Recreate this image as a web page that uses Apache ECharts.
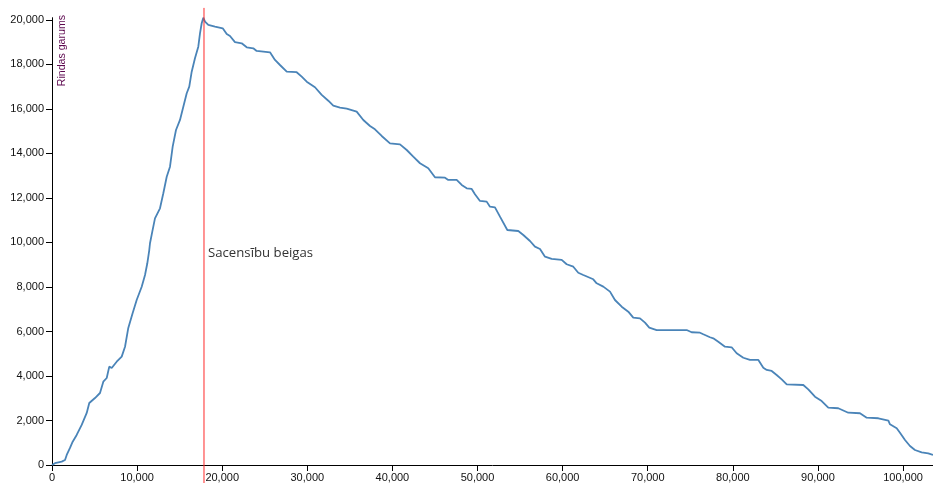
<!DOCTYPE html>
<html>
<head>
<meta charset="utf-8">
<script src="https://cdn.jsdelivr.net/npm/echarts@6/dist/echarts.min.js"></script>
<style>
html,body{margin:0;padding:0;background:#fff;}
#chart{width:933px;height:483px;}
</style>
</head>
<body>
<div id="chart"></div>
<script>
// time (x) values
var timeValues = [
0,350,1140,1530,1730,2115,2430,2900,3490,4080,4380,5050,5640,6030,6430,6730,7015,7600,8190,8580,8965,9480,9950,
10540,10930,11200,11430,11515,11785,12100,12690,13080,13480,13865,14180,14570,15040,15430,15830,16130,16415,16800,
17190,17390,17590,17780,
17980,18365,19150,20060,20530,20915,21500,22290,22880,23650,24050,25615,26200,26790,27580,28750,29340,29930,30900,
31690,32465,33050,33840,34630,35800,36580,37365,37950,38740,39715,40890,41680,42450,43240,44215,45000,46180,46565,
47550,48140,48730,49315,49700,50290,51075,51465,52050,52640,53500,54790,55380,56165,56750,57340,57930,58715,59890,
60475,61255,61840,62430,63600,64000,64780,65565,66150,66940,67715,68300,69090,69680,70180,71050,74575,75160,76140,
76530,77315,77700,78290,79080,79860,80450,81230,82015,83000,83580,83985,84565,85150,85740,86330,88280,88865,89650,
90440,91215,92390,93565,94940,95730,97100,98280,98465,99255,99640,100230,100815,101400,102190,102965,103520
];
// queue length (y) values
var queueLength = [
0,80,150,225,450,765,1047,1350,1800,2340,2786,3010,3235,3745,3910,4420,4360,4640,4870,5315,6160,6830,7415,
8010,8540,9065,9660,9965,10485,11085,11535,12210,12955,13405,14305,15055,15505,16100,16705,17000,17675,18280,
18800,19400,19850,20100,
19920,19775,19700,19625,19370,19280,19000,18950,18770,18725,18605,18545,18200,17975,17675,17650,17450,17225,16975,
16630,16370,16145,16060,16015,15880,15505,15235,15085,14785,14455,14410,14155,13855,13560,13335,12930,12910,12810,
12810,12585,12435,12405,12165,11865,11835,11610,11580,11160,10560,10515,10335,10065,9810,9705,9360,9260,9215,
9020,8910,8640,8540,8345,8165,8015,7790,7415,7115,6890,6620,6590,6395,6170,6065,6065,5965,5945,
5875,5740,5695,5540,5315,5290,5020,4820,4720,4720,4375,4270,4225,4045,3850,3625,3595,3400,3070,
2875,2575,2550,2350,2325,2125,2100,1990,1830,1650,1450,1125,855,675,570,525,450
];
// end of competition marker
var endTime = [17860];
var endLineY = [-810, 20540];
var endLabelY = [9530];
var endLabel = ["Sacensību beigas"];
var yAxisTitle = ["Rindas garums"];

var lineData = timeValues.map(function (t, i) { return [t, queueLength[i]]; });
var endLineData = endLineY.map(function (y) { return [endTime[0], y]; });

var chart = echarts.init(document.getElementById('chart'), null, {renderer: 'canvas'});
var axisLabelStyle = {color: '#111', fontFamily: 'Liberation Sans, Arial, sans-serif', fontSize: 11};
chart.setOption({
  animation: false,
  backgroundColor: '#fff',
  grid: {left: 52, right: 0, top: 17.7, bottom: 18, containLabel: false},
  xAxis: {
    type: 'value', min: 0, max: 103520, interval: 10000,
    axisLine: {show: true, lineStyle: {color: '#000', width: 1}},
    axisTick: {show: true, length: 6, lineStyle: {color: '#000'}},
    axisLabel: Object.assign({margin: 7, showMaxLabel: false}, axisLabelStyle),
    splitLine: {show: false}
  },
  yAxis: {
    type: 'value', min: 0, max: 20100, interval: 2000,
    axisLine: {show: true, lineStyle: {color: '#000', width: 1}},
    axisTick: {show: true, length: 6, lineStyle: {color: '#000'}},
    axisLabel: Object.assign({margin: 8, showMaxLabel: false}, axisLabelStyle),
    splitLine: {show: false}
  },
  graphic: [{
    type: 'text', x: 62, y: 15, rotation: Math.PI / 2,
    style: {text: yAxisTitle[0], fill: '#5e0a50', font: '10.6px "Liberation Sans", Arial, sans-serif',
      align: 'right', verticalAlign: 'middle'}
  }],
  series: [
    {
      type: 'line', data: lineData, showSymbol: false, symbol: 'none',
      lineStyle: {color: '#4a84b8', width: 1.8}, z: 3
    },
    {
      type: 'line', data: endLineData, showSymbol: false, symbol: 'none', clip: false,
      lineStyle: {color: '#ff2a2a', width: 1}, z: 4,
      markPoint: {
        symbol: 'circle', symbolSize: 0,
        data: [{coord: [endTime[0], endLabelY[0]]}],
        label: {show: true, position: 'right', distance: 4, formatter: endLabel[0],
          color: '#333', fontFamily: '"Open Sans", "Noto Sans", sans-serif', fontSize: 13.2}
      }
    }
  ]
});
</script>
</body>
</html>
